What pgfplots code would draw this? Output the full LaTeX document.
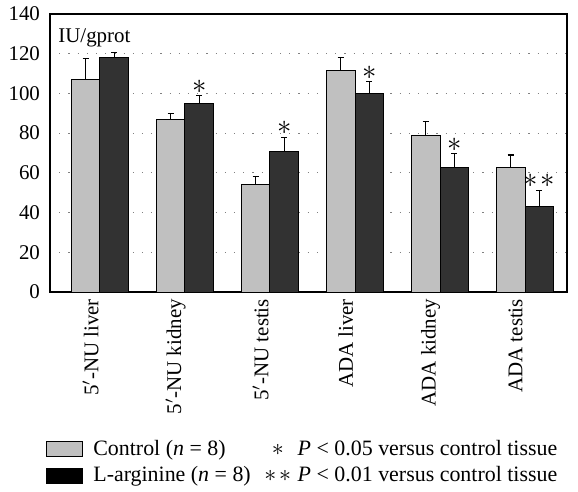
\documentclass[border=0pt]{standalone}
\usepackage{fontspec}
\setmainfont{Liberation Serif}
\usepackage{pgfplots}
\pgfplotsset{compat=1.18}
\definecolor{ctrlgray}{HTML}{C0C0C0}
\definecolor{arggray}{HTML}{323232}
\newcommand{\bigast}{{\fontsize{15}{15}\selectfont$\ast$}}
\newcommand{\legast}{{\fontsize{12.5}{12}\selectfont$\ast$}}
\begin{document}
\begin{tikzpicture}[font=\fontsize{10.5}{12}\selectfont]
\begin{axis}[
  name=ax,
  scale only axis,
  width=258.5bp, height=139bp,
  xmin=-0.588, xmax=5.494,
  ymin=0, ymax=140,
  ytick={0,20,...,140},
  xtick={-0.11,0.89,1.89,2.89,3.89,4.89},
  xticklabels={5$'$-NU liver, 5$'$-NU kidney, 5$'$-NU testis, ADA liver, ADA kidney, ADA testis},
  xticklabel style={rotate=90, anchor=east},
  major tick length=0pt,
  yticklabel style={xshift=-1.5bp},
  /pgf/number format/assume math mode=true,
  ymajorgrids,
  grid style={gray, line width=0.6bp, dash pattern=on 0.6bp off 4bp},
  axis line style={black, line width=0.6bp},
  legend columns=2,
  legend cell align=left,
  legend style={draw=none, fill=none, at={(rel axis cs:0,0)}, anchor=north west,
    font=\fontsize{11}{12}\selectfont,
    xshift=-5bp, yshift=-70bp, row sep=0bp,
    /tikz/every even column/.append style={column sep=1.5bp}},
]
% Control
\addplot[ybar, bar width=0.335, bar shift=0, fill=ctrlgray, draw=black, line width=0.5bp,
  error bars/.cd, y dir=plus, y explicit,
  error bar style={black, line width=0.6bp},
  error mark options={rotate=90, mark size=1.6bp, black, line width=0.6bp},
  /pgfplots/legend image code/.code={\draw[fill=ctrlgray, draw=black, line width=0.5bp] (0bp,-3.75bp) rectangle (18bp,3.75bp); \path (21bp,0);}]
  coordinates {
  (-0.1675,107.0) +- (0,10.6)
  (0.8325,87.0)  +- (0,2.8)
  (1.8325,54.2)  +- (0,4.0)
  (2.8325,111.6) +- (0,6.4)
  (3.8325,78.9)  +- (0,6.9)
  (4.8325,62.8)  +- (0,6.2)
};
\addlegendentry{Control (\textit{n} = 8)}
\addlegendimage{empty legend}
\addlegendentry{\makebox[16bp][c]{\legast}\hspace{2bp}\textit{P} < 0.05 versus control tissue}
% L-arginine
\addplot[ybar, bar width=0.335, bar shift=0, fill=arggray, draw=black, line width=0.5bp,
  error bars/.cd, y dir=plus, y explicit,
  error bar style={black, line width=0.6bp},
  error mark options={rotate=90, mark size=1.6bp, black, line width=0.6bp},
  /pgfplots/legend image code/.code={\draw[fill=black, draw=black, line width=0.5bp] (0bp,-3.75bp) rectangle (18bp,3.75bp); \path (21bp,0);}]
  coordinates {
  (0.1675,118.0) +- (0,2.7)
  (1.1675,95.0)  +- (0,3.9)
  (2.1675,70.7)  +- (0,7.2)
  (3.1675,100.0) +- (0,5.9)
  (4.1675,62.8)  +- (0,6.8)
  (5.1675,43.3)  +- (0,7.9)
};
\addlegendentry{L-arginine (\textit{n} = 8)}
\addlegendimage{empty legend}
\addlegendentry{\makebox[16bp][c]{\legast\hspace{1.5bp}\legast}\hspace{2bp}\textit{P} < 0.01 versus control tissue}
% significance markers
\addplot[draw=none, mark=none, forget plot,
  nodes near coords, point meta=explicit symbolic,
  every node near coord/.append style={anchor=south, inner sep=1bp, yshift=0bp}]
  coordinates {
  (1.1675,98.9)  [\bigast]
  (2.1675,77.9)  [\bigast]
  (3.1675,105.9) [\bigast]
  (4.1675,69.6)  [\bigast]
  (5.1675,51.2)  [\bigast\,\bigast]
};
\node[anchor=north west, inner sep=0pt] at ([shift={(4bp,-7bp)}]rel axis cs:0,1) {IU/gprot};
\end{axis}
\pgfresetboundingbox
\path[use as bounding box] ([shift={(-25bp,-100bp)}]ax.south west) rectangle ([shift={(5.5bp,7bp)}]ax.north east);
\end{tikzpicture}
\end{document}
